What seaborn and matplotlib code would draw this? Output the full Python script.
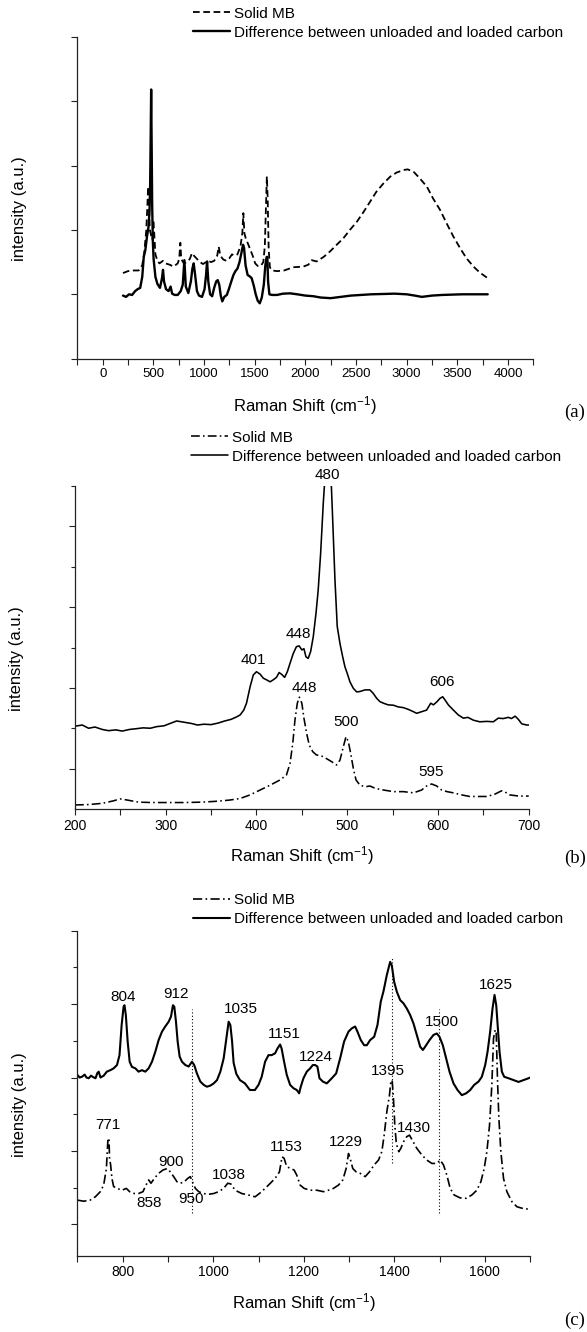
import matplotlib
matplotlib.use("Agg")
import matplotlib.pyplot as plt
import seaborn as sns
import pandas as pd
from matplotlib.ticker import FixedLocator, NullFormatter

# ---------------- data ----------------
LEGEND_LABELS = ["Solid MB", "Difference between unloaded and loaded carbon"]

# Panel (a): full range
A_MB_X = [200, 250, 300, 355, 390, 410, 430, 440, 448, 456, 465, 480, 490, 500, 508, 520, 540, 560,
          595, 620, 660, 700, 740, 755, 766, 775, 800, 830, 860, 881, 900, 930, 960, 990, 1020, 1040,
          1070, 1100, 1130, 1145, 1160, 1190, 1220, 1250, 1276, 1300, 1330, 1360, 1378, 1388, 1398,
          1415, 1430, 1450, 1480, 1505, 1530, 1560, 1585, 1600, 1612, 1620, 1628, 1638, 1650, 1670,
          1720, 1790, 1880, 1980, 2030, 2063, 2110, 2180, 2240, 2310, 2375, 2440, 2510, 2575, 2640,
          2700, 2770, 2840, 2900, 2970, 3010, 3070, 3130, 3200, 3260, 3330, 3395, 3460, 3530, 3590,
          3660, 3720, 3800]
A_MB_Y = [1.33, 1.36, 1.37, 1.37, 1.45, 1.65, 2.00, 2.35, 2.67, 2.40, 2.00, 1.90, 1.85, 2.15, 1.95,
          1.62, 1.52, 1.48, 1.52, 1.48, 1.46, 1.43, 1.48, 1.55, 1.80, 1.55, 1.48, 1.50, 1.55, 1.64,
          1.60, 1.55, 1.50, 1.47, 1.50, 1.52, 1.50, 1.52, 1.60, 1.74, 1.60, 1.54, 1.52, 1.56, 1.62,
          1.60, 1.62, 1.75, 1.95, 2.26, 1.95, 1.85, 1.80, 1.72, 1.60, 1.48, 1.44, 1.44, 1.50, 1.75,
          2.40, 2.83, 2.50, 1.70, 1.42, 1.37, 1.36, 1.37, 1.42, 1.43, 1.46, 1.53, 1.51, 1.58, 1.66,
          1.77, 1.87, 2.00, 2.13, 2.28, 2.44, 2.59, 2.72, 2.83, 2.89, 2.93, 2.94, 2.90, 2.80, 2.67,
          2.49, 2.31, 2.10, 1.90, 1.71, 1.56, 1.43, 1.34, 1.25]

A_DIFF_X = [200, 230, 260, 290, 320, 345, 370, 390, 405, 421, 437, 452, 462, 468, 473, 478, 483, 488,
            494, 502, 520, 540, 565, 585, 595, 605, 625, 650, 670, 685, 710, 740, 770, 790, 806, 820,
            845, 870, 885, 898, 912, 930, 950, 980, 1005, 1020, 1030, 1042, 1060, 1080, 1100, 1120,
            1135, 1150, 1165, 1180, 1200, 1225, 1245, 1265, 1290, 1310, 1330, 1350, 1370, 1385, 1395,
            1410, 1430, 1450, 1470, 1490, 1510, 1530, 1550, 1570, 1590, 1605, 1618, 1625, 1632, 1645,
            1670, 1720, 1780, 1850, 1920, 2000, 2080, 2150, 2250, 2350, 2450, 2550, 2650, 2770, 2880,
            3000, 3080, 3150, 3250, 3350, 3450, 3550, 3650, 3750, 3800]
A_DIFF_Y = [0.98, 0.96, 1.00, 0.99, 1.05, 1.08, 1.10, 1.27, 1.58, 1.69, 1.90, 2.05, 2.30, 2.70, 3.40,
            4.18, 3.30, 2.40, 1.85, 1.55, 1.27, 1.16, 1.10, 1.25, 1.38, 1.20, 1.08, 1.05, 1.12, 1.01,
            0.99, 0.99, 1.05, 1.15, 1.53, 1.12, 1.02, 1.20, 1.40, 1.48, 1.30, 1.05, 0.98, 0.96, 1.08,
            1.30, 1.51, 1.20, 1.00, 0.97, 1.10, 1.20, 1.22, 1.15, 0.98, 0.89, 0.96, 0.99, 1.08, 1.18,
            1.30, 1.36, 1.40, 1.50, 1.65, 1.77, 1.72, 1.45, 1.30, 1.28, 1.25, 1.14, 1.00, 0.90, 0.86,
            0.95, 1.15, 1.45, 1.58, 1.58, 1.20, 1.00, 0.99, 0.99, 1.01, 1.015, 1.00, 0.98, 0.97, 0.95,
            0.94, 0.96, 0.98, 0.99, 1.00, 1.005, 1.01, 1.00, 0.98, 0.96, 0.98, 0.99, 0.995, 1.00, 1.00,
            1.00, 1.00]

# Panel (b): 200-700 cm-1
B_MB_X = [200, 215, 230, 242, 250, 258, 270, 285, 300, 320, 340, 355, 370, 382, 393, 404, 415, 426,
          433, 437, 440, 442.4, 445, 447.2, 450, 452.3, 455.3, 458.2, 462, 466, 472, 477, 483, 488.3,
          492, 495.7, 498.6, 501.2, 503.8, 506.7, 509.7, 514, 520, 525, 531, 540, 551, 562, 573, 582,
          587.5, 593, 598.6, 604, 610, 617, 626, 635, 645, 654, 663, 670, 674, 679, 689, 700]
B_MB_Y = [0.10, 0.11, 0.14, 0.20, 0.25, 0.22, 0.17, 0.16, 0.16, 0.16, 0.17, 0.19, 0.22, 0.26, 0.35,
          0.47, 0.59, 0.72, 0.84, 1.13, 1.63, 2.20, 2.62, 2.77, 2.62, 2.25, 1.87, 1.58, 1.42, 1.34,
          1.31, 1.25, 1.17, 1.09, 1.21, 1.54, 1.79, 1.67, 1.38, 1.01, 0.72, 0.59, 0.55, 0.57, 0.51,
          0.47, 0.43, 0.43, 0.40, 0.47, 0.57, 0.62, 0.57, 0.47, 0.43, 0.40, 0.35, 0.31, 0.31, 0.31,
          0.37, 0.45, 0.42, 0.35, 0.32, 0.32]

B_DIFF_X = [200, 208, 215, 222, 230, 237, 245, 252, 260, 268, 275, 283, 290, 298, 305, 312, 320, 328,
            335, 342, 350, 358, 365, 372, 378, 382, 386, 389, 393, 396.5, 400, 404, 407.5, 411, 415,
            418.5, 422, 425, 428, 431, 434, 437, 440.5, 444, 447, 450, 452.3, 454.5, 457, 459.7, 462.6,
            465.6, 468, 470.7, 473.6, 476.6, 479, 481.5, 484, 486.5, 489, 492, 495, 497.5, 500, 503,
            506.7, 510.4, 514, 519.6, 525, 528.8, 532.5, 536, 540, 545, 551, 556, 562, 567, 573, 576.5,
            582, 587.5, 592, 595, 598.6, 602.2, 605.2, 607.8, 611.4, 617, 622.4, 628, 633, 639, 646,
            654, 661, 666.5, 672, 677.5, 681, 685, 688.6, 692.3, 697.8, 700]
B_DIFF_Y = [2.05, 2.08, 2.00, 2.03, 1.97, 1.94, 1.96, 1.93, 1.97, 1.99, 2.01, 2.00, 2.04, 2.06, 2.12,
            2.18, 2.15, 2.12, 2.08, 2.10, 2.09, 2.13, 2.18, 2.22, 2.28, 2.33, 2.45, 2.62, 3.03, 3.32,
            3.40, 3.34, 3.24, 3.20, 3.15, 3.20, 3.26, 3.38, 3.33, 3.26, 3.40, 3.61, 3.85, 4.02, 4.04,
            3.94, 3.97, 3.77, 3.73, 3.90, 4.27, 4.85, 5.42, 6.33, 7.57, 8.60, 9.00, 8.60, 7.16, 5.67,
            4.52, 4.10, 3.77, 3.52, 3.36, 3.15, 2.99, 2.90, 2.91, 2.95, 2.95, 2.86, 2.74, 2.66, 2.62,
            2.58, 2.57, 2.53, 2.51, 2.47, 2.41, 2.37, 2.41, 2.45, 2.62, 2.58, 2.65, 2.74, 2.78, 2.70,
            2.58, 2.45, 2.33, 2.25, 2.27, 2.20, 2.16, 2.17, 2.16, 2.25, 2.24, 2.27, 2.24, 2.30, 2.22,
            2.11, 2.08, 2.08]

B_PEAKS = ["480", "448", "401", "606", "448", "500", "595"]
B_PEAK_X = [478, 446, 396.5, 605, 452.3, 498.6, 592]
B_PEAK_Y = [8.28, 4.33, 3.69, 3.15, 2.99, 2.15, 0.92]

# Panel (c): 700-1700 cm-1
C_MB_X = [700, 714, 728, 739.5, 750.6, 758, 764, 767.5, 769.7, 771, 773.4, 776.3, 780, 787.4, 798.4,
          808, 815.4, 825.7, 835, 844.8, 850, 857.3, 862.5, 869.9, 879.4, 889, 897.9, 905.2, 912.6,
          920, 927.3, 936, 943.5, 949.4, 955.3, 960.5, 968, 977.4, 990, 1001, 1012, 1023, 1032, 1039,
          1048.3, 1063, 1077.7, 1092.4, 1107, 1122, 1136.6, 1146.2, 1152, 1156.5, 1162.4, 1171.2,
          1178.6, 1184.5, 1191.9, 1200.7, 1214, 1228.7, 1243.4, 1254.5, 1265.5, 1276.6, 1286.1,
          1293.5, 1298.7, 1302.3, 1308.2, 1315.6, 1324.4, 1335.5, 1345, 1355.4, 1365, 1372.3, 1377.5,
          1383.4, 1389.2, 1392.2, 1395.1, 1398, 1401, 1404, 1407, 1409.8, 1414.3, 1420.2, 1427.5,
          1433.4, 1439.3, 1449.6, 1460.7, 1471.7, 1482.8, 1493.8, 1501.2, 1508.5, 1515.9, 1523.3,
          1532.1, 1545.4, 1558.6, 1571.1, 1582.2, 1591, 1598.4, 1604.3, 1610.2, 1615.3, 1619, 1622.7,
          1625, 1627.9, 1630.8, 1635.2, 1641.1, 1648.5, 1659.5, 1670.6, 1681.6, 1692.7, 1700]
C_MB_Y = [1.66, 1.63, 1.66, 1.75, 1.89, 2.07, 2.52, 3.34, 3.34, 2.80, 2.62, 2.25, 2.03, 1.98, 1.93,
          1.98, 1.89, 1.84, 1.84, 1.89, 2.03, 2.21, 2.12, 2.25, 2.39, 2.48, 2.52, 2.43, 2.30, 2.16,
          2.12, 2.16, 2.25, 2.30, 2.12, 1.98, 1.89, 1.84, 1.82, 1.84, 1.89, 1.98, 2.12, 2.10, 1.93,
          1.84, 1.80, 1.75, 1.89, 2.07, 2.25, 2.43, 2.84, 2.80, 2.57, 2.52, 2.48, 2.34, 2.07, 1.98,
          1.93, 1.93, 1.89, 1.93, 1.98, 2.07, 2.21, 2.52, 2.93, 2.80, 2.52, 2.43, 2.39, 2.30, 2.43,
          2.62, 2.75, 2.98, 3.43, 4.07, 4.52, 4.89, 4.93, 4.43, 3.70, 3.25, 3.07, 2.98, 3.07, 3.25,
          3.39, 3.43, 3.30, 3.07, 2.89, 2.75, 2.66, 2.66, 2.75, 2.62, 2.34, 1.98, 1.80, 1.72, 1.71,
          1.80, 1.93, 2.16, 2.52, 2.98, 3.70, 4.80, 6.07, 6.30, 6.20, 4.89, 3.89, 2.98, 2.25, 1.89,
          1.62, 1.48, 1.44, 1.42, 1.40]

C_DIFF_X = [700, 705, 710, 716, 720, 725, 730, 735, 740, 744, 747, 751, 758, 765, 772.7, 780, 787.4,
            793, 797.7, 802, 804, 807, 811, 815.4, 820.5, 828, 835, 842.6, 850, 857.3, 864.7, 872,
            879.4, 886.8, 894, 901.5, 906.7, 911, 914, 917.7, 921.4, 925.8, 931, 938.4, 945.7, 953,
            958, 964, 971.5, 978.9, 986, 993.6, 1001, 1008.3, 1015.7, 1023, 1029, 1034, 1037.8,
            1041.5, 1045, 1051, 1059, 1070, 1081, 1092, 1100, 1107, 1114.5, 1122, 1129, 1136.6,
            1141.8, 1147.7, 1151, 1156.5, 1162.4, 1169.8, 1177, 1184.5, 1189.7, 1193.3, 1199.2,
            1206.6, 1214, 1219.9, 1225, 1230, 1234.6, 1242, 1250.8, 1261.8, 1271.4, 1280.2, 1289,
            1298.7, 1306, 1313.4, 1318.5, 1325.9, 1333.3, 1339.2, 1346.5, 1355.4, 1362.7, 1370, 1376,
            1383.3, 1390.7, 1394.4, 1399.5, 1405.4, 1412.8, 1420.2, 1427.5, 1435, 1442.3, 1449.6, 1457,
            1463, 1470.2, 1477.6, 1486.4, 1493.8, 1499.7, 1507, 1514.4, 1521.8, 1530.6, 1539.5, 1549,
            1558.6, 1567.5, 1576.3, 1585.9, 1593.2, 1600.6, 1605.8, 1611.6, 1616.8, 1621.2, 1625,
            1628.6, 1632.3, 1637.4, 1642.6, 1652.2, 1663.2, 1674.2, 1685.3, 1696.3, 1700]
C_DIFF_Y = [5.07, 5.00, 5.02, 5.08, 5.00, 4.98, 5.05, 5.01, 4.98, 5.12, 5.16, 5.00, 5.05, 5.16, 5.20,
            5.25, 5.34, 5.61, 6.43, 6.93, 6.97, 6.70, 5.98, 5.43, 5.29, 5.25, 5.16, 5.20, 5.16, 5.25,
            5.43, 5.70, 6.02, 6.25, 6.39, 6.52, 6.66, 6.97, 6.93, 6.52, 5.98, 5.57, 5.43, 5.34, 5.30,
            5.43, 5.34, 5.11, 4.89, 4.80, 4.75, 4.78, 4.84, 4.93, 5.16, 5.52, 6.07, 6.52, 6.43, 6.00,
            5.40, 5.10, 4.93, 4.84, 4.66, 4.66, 4.80, 5.02, 5.43, 5.61, 5.61, 5.66, 5.79, 5.90, 5.79,
            5.43, 5.07, 4.80, 4.71, 4.66, 4.57, 4.75, 4.98, 5.16, 5.25, 5.34, 5.34, 5.30, 4.98, 4.89,
            4.84, 4.98, 5.11, 5.52, 5.98, 6.25, 6.34, 6.39, 6.25, 6.02, 5.88, 5.88, 6.02, 6.11, 6.43,
            7.07, 7.35, 7.79, 8.15, 8.05, 7.61, 7.34, 7.11, 7.02, 6.88, 6.70, 6.47, 6.16, 5.84, 5.75,
            5.88, 6.02, 6.16, 6.20, 6.11, 5.88, 5.52, 5.16, 4.84, 4.66, 4.52, 4.57, 4.66, 4.80, 4.89,
            5.02, 5.34, 5.70, 6.25, 6.88, 7.25, 6.97, 6.34, 5.70, 5.16, 5.02, 4.98, 4.93, 4.88, 4.93,
            4.98, 5.00]

C_PEAKS = ["804", "912", "1035", "1151", "1224", "1500", "1625", "1395", "1430", "771", "900", "1153",
           "1229", "858", "950", "1038"]
C_PEAK_X = [801.6, 918.8, 1060, 1157, 1226, 1505, 1624, 1386, 1442, 767, 907, 1161, 1293, 858, 950,
            1035]
C_PEAK_Y = [7.19, 7.27, 6.87, 6.19, 5.56, 6.51, 7.52, 5.18, 3.62, 3.71, 2.70, 3.11, 3.25, 1.59, 1.68,
            2.34]

C_REF_X = [953, 1395, 1498]
C_REF_YMIN = [1.30, 2.66, 1.30]
C_REF_YMAX = [6.88, 8.25, 6.88]

# ---------------- styling ----------------
sns.set_style("ticks")
plt.rcParams["font.family"] = ["Liberation Sans", "DejaVu Sans"]
plt.rcParams["mathtext.default"] = "regular"
for k in ("text.color", "axes.labelcolor", "xtick.color", "ytick.color", "axes.edgecolor"):
    plt.rcParams[k] = "black"

W, H = 587, 1332
fig = plt.figure(figsize=(W / 100, H / 100), dpi=100)


def make_axes(left, right, top, bottom):
    return fig.add_axes([left / W, 1 - bottom / H, (right - left) / W, (bottom - top) / H])


ax_a = make_axes(77.4, 533.3, 36.7, 358.7)
ax_b = make_axes(75.0, 528.7, 486.0, 809.0)
ax_c = make_axes(77.4, 530.2, 930.7, 1255.7)

DASHED = (0, (3.7, 2.0))
DASHDOT = (0, (5.5, 2.0, 1.0, 2.0))


def draw(ax, x, y, ls, lw, label):
    df = pd.DataFrame({"x": x, "y": y})
    sns.lineplot(data=df, x="x", y="y", ax=ax, color="black", linewidth=lw, linestyle=ls,
                 label=label, legend=False, sort=False, estimator=None)
    return ax.lines[-1]


def style_axes(ax, xmaj, xmin, ymaj, ymin, xlim, ylim, tick_fs, leg_top, leg_left):
    ax.set_xlim(*xlim)
    ax.set_ylim(*ylim)
    sns.despine(ax=ax)
    for s in ("left", "bottom"):
        ax.spines[s].set_linewidth(0.9)
        ax.spines[s].set_color("#222222")
    ax.xaxis.set_major_locator(FixedLocator(xmaj))
    ax.xaxis.set_minor_locator(FixedLocator(xmin))
    ax.yaxis.set_major_locator(FixedLocator(ymaj))
    ax.yaxis.set_minor_locator(FixedLocator(ymin))
    ax.yaxis.set_major_formatter(NullFormatter())
    ax.xaxis.set_minor_formatter(NullFormatter())
    ax.tick_params(axis="x", which="both", direction="out", length=4.0, width=0.8,
                   labelsize=tick_fs, pad=3.0, color="#222222")
    ax.tick_params(axis="y", which="major", direction="out", length=4.5, width=0.8,
                   labelleft=False, color="#222222")
    ax.tick_params(axis="y", which="minor", direction="out", length=2.8, width=0.8,
                   labelleft=False, color="#222222")
    ax.set_xlabel("Raman Shift (cm$^{-1}$)", fontsize=12)
    ax.set_ylabel("intensity (a.u.)", fontsize=12)
    hgt = ax.get_position().height * H
    wid = ax.get_position().width * W
    ax.xaxis.set_label_coords(0.5, -46.5 / hgt)
    ax.xaxis.label.set_va("center")
    ax.yaxis.set_label_coords(-58.0 / wid, 0.465)
    ax.yaxis.label.set_va("center")
    handles = ax.lines[:2]
    ax.legend(handles=handles, labels=LEGEND_LABELS, loc="upper left",
              bbox_to_anchor=(leg_left / W, 1 - leg_top / H), bbox_transform=fig.transFigure,
              frameon=False, fontsize=11, handlelength=2.4, handletextpad=0.27,
              labelspacing=0.33, borderpad=0, borderaxespad=0)


# Panel (a)
draw(ax_a, A_MB_X, A_MB_Y, DASHED, 1.3, LEGEND_LABELS[0])
draw(ax_a, A_DIFF_X, A_DIFF_Y, "-", 1.7, LEGEND_LABELS[1])
style_axes(ax_a, list(range(0, 4001, 500)), list(range(-250, 4251, 500)),
           [0, 1, 2, 3, 4, 5], [], (-250, 4250), (0, 5), 9.5, 6.5, 193)

# Panel (b)
draw(ax_b, B_MB_X, B_MB_Y, DASHDOT, 1.15, LEGEND_LABELS[0])
draw(ax_b, B_DIFF_X, B_DIFF_Y, "-", 1.15, LEGEND_LABELS[1])
style_axes(ax_b, list(range(200, 701, 100)), list(range(250, 701, 100)),
           [1, 3, 5, 7], [2, 4, 6, 8], (200, 700), (0, 8), 10, 430.5, 191)
for t, x, y in zip(B_PEAKS, B_PEAK_X, B_PEAK_Y):
    ax_b.text(x, y, t, ha="center", va="center", fontsize=11, clip_on=False)

# Panel (c)
draw(ax_c, C_MB_X, C_MB_Y, DASHDOT, 1.2, LEGEND_LABELS[0])
draw(ax_c, C_DIFF_X, C_DIFF_Y, "-", 1.5, LEGEND_LABELS[1])
ax_c.vlines(C_REF_X, C_REF_YMIN, C_REF_YMAX, colors="black", linewidth=0.8,
            linestyles=(0, (1.0, 2.0)))
style_axes(ax_c, list(range(800, 1601, 200)), list(range(700, 1701, 200)),
           [1, 3, 5, 7, 9], [2, 4, 6, 8], (700, 1700), (0.146, 9), 10, 893.0, 193)
for t, x, y in zip(C_PEAKS, C_PEAK_X, C_PEAK_Y):
    ax_c.text(x, y, t, ha="center", va="center", fontsize=11)

for lab, yc in (("(a)", 412), ("(b)", 858), ("(c)", 1320)):
    fig.text(575 / W, 1 - yc / H, lab, ha="center", va="center", fontsize=13.5,
             family="Liberation Serif")

fig.savefig("out.png", dpi=100)
